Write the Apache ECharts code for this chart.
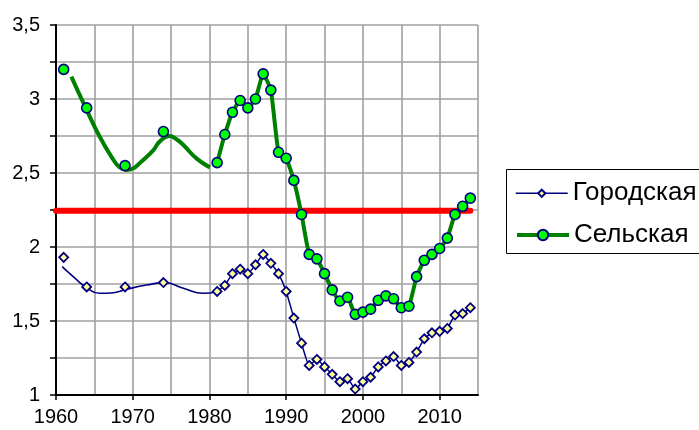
<!DOCTYPE html>
<html>
<head>
<meta charset="utf-8">
<script src="https://cdn.jsdelivr.net/npm/echarts@6/dist/echarts.min.js"></script>
<style>
  html, body { margin: 0; padding: 0; background: #fff; }
  #chart { width: 699px; height: 430px; }
</style>
</head>
<body>
<div id="chart"></div>
<script>
// Annual total fertility rate, 1981–2014
const years = [1981, 1982, 1983, 1984, 1985, 1986, 1987, 1988, 1989, 1990,
               1991, 1992, 1993, 1994, 1995, 1996, 1997, 1998, 1999, 2000,
               2001, 2002, 2003, 2004, 2005, 2006, 2007, 2008, 2009, 2010,
               2011, 2012, 2013, 2014];
const urban = [1.70, 1.74, 1.82, 1.85, 1.82, 1.88, 1.95, 1.89, 1.82, 1.70,
               1.52, 1.35, 1.20, 1.24, 1.19, 1.14, 1.09, 1.11, 1.04, 1.09,
               1.12, 1.19, 1.23, 1.26, 1.20, 1.22, 1.29, 1.38, 1.42, 1.43,
               1.45, 1.54, 1.55, 1.59];
const rural = [2.57, 2.76, 2.91, 2.99, 2.94, 3.00, 3.17, 3.06, 2.64, 2.60,
               2.45, 2.22, 1.95, 1.92, 1.82, 1.71, 1.635, 1.66, 1.545, 1.56,
               1.58, 1.64, 1.67, 1.65, 1.59, 1.60, 1.80, 1.91, 1.95, 1.99,
               2.06, 2.22, 2.275, 2.33];

// Earlier single-year estimates
const earlyYears = [1961, 1964, 1969, 1974];
const urbanEarly = [1.93, 1.73, 1.73, 1.76];
const ruralEarly = [3.20, 2.94, 2.55, 2.78];

// Smoothed trend through the 1960s–70s
const urbanTrendYears = [1960.8, 1962.5, 1964.0, 1965.7, 1967.5, 1969.2, 1971.8, 1974.2, 1976.6, 1979.2, 1981];
const urbanTrend      = [1.867, 1.788, 1.725, 1.687, 1.691, 1.714, 1.743, 1.759, 1.721, 1.687, 1.70];
const ruralTrendYears = [1962.0, 1963.8, 1965.7, 1967.5, 1968.3, 1969.2, 1970.1, 1970.9, 1972.7, 1973.5, 1974.8, 1975.7, 1976.6, 1978.3, 1980.05];
const ruralTrend      = [3.151, 2.948, 2.745, 2.588, 2.538, 2.52, 2.532, 2.566, 2.655, 2.712, 2.75, 2.728, 2.689, 2.599, 2.538];

// Replacement level reference line
const refYears = [1960, 2014];
const refLevel = 2.245;

// Axis ticks
const xTicks = [1960, 1970, 1980, 1990, 2000, 2010];
const yMin = 1, yMax = 3.5, yStep = 0.25;

const FONT = '"Liberation Sans", Arial, sans-serif';
const NAVY = '#000080';

const pairs = (xs, ys) => xs.map((x, i) => [x, ys[i]]);

const urbanMarker = {
  symbol: 'diamond', symbolSize: 9,
  itemStyle: { color: '#ffff99', borderColor: NAVY, borderWidth: 1.8, opacity: 1 }
};
const ruralMarker = {
  symbol: 'circle', symbolSize: 10,
  itemStyle: { color: '#00ff00', borderColor: NAVY, borderWidth: 1.6, opacity: 1 }
};

const chart = echarts.init(document.getElementById('chart'), null, { renderer: 'canvas' });

chart.setOption({
  animation: false,
  backgroundColor: '#fff',
  grid: { left: 56, right: 221, top: 25, bottom: 35, containLabel: false },
  graphic: [{
    type: 'rect', z: 0,
    shape: { x: 506.5, y: 169.5, width: 200, height: 84 },
    style: { fill: '#fff', stroke: '#000', lineWidth: 1 }
  }],
  legend: [{
    data: ['Городская'], left: 515, top: 180.3, padding: 0,
    itemWidth: 52, itemHeight: 9, itemGap: 6,
    lineStyle: { width: 1.5 },
    textStyle: { fontSize: 26, color: '#000', fontFamily: FONT }
  }, {
    data: ['Сельская'], left: 515, top: 222, padding: 0,
    itemWidth: 52, itemHeight: 13, itemGap: 6,
    lineStyle: { width: 4 },
    textStyle: { fontSize: 26, color: '#000', fontFamily: FONT }
  }],
  xAxis: [{
    type: 'value', min: 1960, max: 2015, interval: 5, position: 'bottom',
    axisLine: { show: false }, axisTick: { show: false }, axisLabel: { show: false },
    splitLine: { show: true, lineStyle: { color: '#a0a0a0', width: 1.6 } }
  }, {
    type: 'value', min: 1960, max: 2015, interval: 10, position: 'bottom',
    axisLine: { show: true, onZero: false, lineStyle: { color: '#000', width: 2 } },
    axisTick: { show: true, length: 5, lineStyle: { color: '#000', width: 1.5 },
                customValues: xTicks },
    axisLabel: {
      show: true, fontSize: 20, color: '#000', fontFamily: FONT, margin: 12,
      customValues: xTicks,
      formatter: v => (xTicks.indexOf(v) >= 0 ? String(v) : '')
    },
    splitLine: { show: false }
  }],
  yAxis: {
    type: 'value', min: yMin, max: yMax, interval: yStep,
    axisLine: { show: true, onZero: false, lineStyle: { color: '#000', width: 2 } },
    axisTick: { show: true, length: 6, lineStyle: { color: '#000', width: 1.5 } },
    axisLabel: {
      fontSize: 20, color: '#000', fontFamily: FONT, margin: 16,
      formatter: v => (Math.abs(v * 2 - Math.round(v * 2)) < 1e-9 ? String(v).replace('.', ',') : '')
    },
    splitLine: { show: true, lineStyle: { color: '#a0a0a0', width: 1.6 } }
  },
  series: [
    {
      name: 'Уровень замещения', type: 'line', silent: true, z: 1,
      data: pairs(refYears, [refLevel, refLevel]),
      symbol: 'none',
      lineStyle: { color: '#ff0000', width: 6, cap: 'round' }
    },
    {
      name: 'Городская тренд', type: 'line', smooth: 0.5, silent: true, z: 2,
      data: pairs(urbanTrendYears, urbanTrend),
      symbol: 'none',
      lineStyle: { color: NAVY, width: 1.6 }
    },
    Object.assign({
      name: 'Городская', type: 'line', smooth: 0.15, z: 3,
      data: pairs(years, urban), showSymbol: true,
      lineStyle: { color: NAVY, width: 1.5 }
    }, urbanMarker),
    Object.assign({
      name: 'Городская', type: 'scatter', z: 3,
      data: pairs(earlyYears, urbanEarly)
    }, urbanMarker),
    {
      name: 'Сельская тренд', type: 'line', smooth: 0.5, silent: true, z: 2,
      data: pairs(ruralTrendYears, ruralTrend),
      symbol: 'none',
      lineStyle: { color: '#008000', width: 4 }
    },
    Object.assign({
      name: 'Сельская', type: 'line', smooth: 0.15, z: 3,
      data: pairs(years, rural), showSymbol: true,
      lineStyle: { color: '#008000', width: 4 }
    }, ruralMarker),
    Object.assign({
      name: 'Сельская', type: 'scatter', z: 3,
      data: pairs(earlyYears, ruralEarly)
    }, ruralMarker)
  ]
});
</script>
</body>
</html>
